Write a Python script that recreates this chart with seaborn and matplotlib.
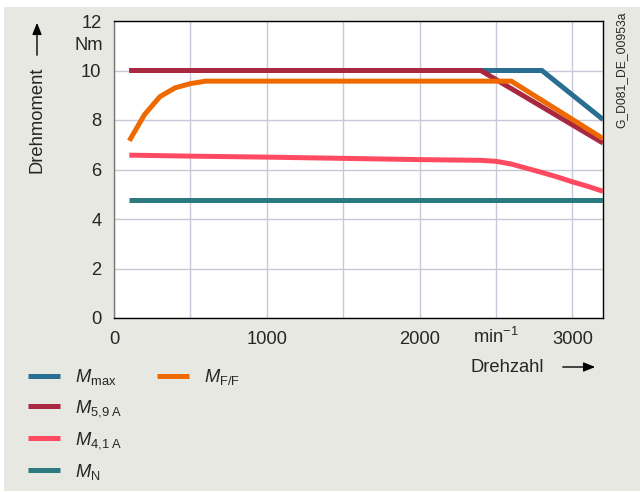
import numpy as np
import pandas as pd
import matplotlib
matplotlib.use("Agg")
import matplotlib.pyplot as plt
from matplotlib.patches import Rectangle
import matplotlib.transforms as mtransforms
import seaborn as sns

# ---- data ----
n_max = [100, 2800, 3200]
m_max = [10.0, 10.0, 8.02]

n_59 = [100, 2400, 3200]
m_59 = [10.0, 10.0, 7.07]

n_41 = [100, 500, 1000, 1500, 2000, 2400, 2500, 2600, 2700, 2800, 2900, 3000, 3100, 3200]
m_41 = [6.58, 6.54, 6.50, 6.45, 6.40, 6.37, 6.33, 6.22, 6.05, 5.88, 5.70, 5.50, 5.32, 5.12]

n_N = [100, 3200]
m_N = [4.76, 4.76]

n_ff = [100, 200, 300, 400, 500, 600, 2600, 3200]
m_ff = [7.16, 8.22, 8.94, 9.30, 9.47, 9.57, 9.57, 7.25]

series_labels = [r"$M_{\mathrm{max}}$", r"$M_{\mathrm{5{,}9\ A}}$", r"$M_{\mathrm{4{,}1\ A}}$",
                 r"$M_{\mathrm{N}}$", r"$M_{\mathrm{F/F}}$"]
x_ticks = [0, 1000, 2000, 3000]
y_ticks = [0, 2, 4, 6, 8, 10, 12]

colors = ["#2a6e92", "#a9283f", "#ff4b62", "#2a7a80", "#ee6a00"]

sns.set_style("white")
plt.rcParams["font.family"] = ["Liberation Sans", "DejaVu Sans"]
plt.rcParams["mathtext.fontset"] = "custom"
plt.rcParams["mathtext.rm"] = "Liberation Sans"
plt.rcParams["mathtext.it"] = "Liberation Sans:italic"
plt.rcParams["mathtext.bf"] = "Liberation Sans:bold"

FS = 13.2
bg = "#e8e8e3"
fig = plt.figure(figsize=(6.4, 4.92), dpi=100)
fig.patch.set_facecolor("white")
fig.patches.append(Rectangle((4 / 640, 1 - 491 / 492), 636 / 640, 484 / 492,
                             transform=fig.transFigure, facecolor=bg, edgecolor="none", zorder=-10))

ax = fig.add_axes([114 / 640, 1 - 318 / 492, (603 - 114) / 640, (318 - 21) / 492])
ax.set_facecolor("white")

frames = []
for name, xs, ys in [("max", n_max, m_max), ("59", n_59, m_59), ("41", n_41, m_41),
                     ("N", n_N, m_N), ("ff", n_ff, m_ff)]:
    frames.append(pd.DataFrame({"n": xs, "M": ys, "s": name}))
df = pd.concat(frames, ignore_index=True)

handles = []
for name, lab, col in zip(["max", "59", "41", "N", "ff"], series_labels, colors):
    sub = df[df["s"] == name]
    sns.lineplot(data=sub, x="n", y="M", ax=ax, color=col, lw=3.6, sort=False,
                 solid_capstyle="butt", solid_joinstyle="miter", zorder=3)
    handles.append(ax.lines[-1])

ax.set_xlim(0, 3200)
ax.set_ylim(0, 12)
ax.set_xticks(x_ticks)
ax.set_xticklabels([str(v) for v in x_ticks])
ax.set_yticks(y_ticks)
ax.set_xticks(np.arange(500, 3200, 500), minor=True)
ax.grid(True, which="both", color="#c9c8d8", lw=1.0)
ax.set_axisbelow(True)
ax.tick_params(axis="both", which="major", direction="out", length=6, width=1, color="#666666",
               labelsize=FS, pad=3)
ax.tick_params(axis="x", which="minor", length=0)
ax.set_xlabel("")
ax.set_ylabel("")
for s in ["top", "right", "bottom"]:
    ax.spines[s].set_color("black")
    ax.spines[s].set_linewidth(1.0)
ax.spines["left"].set_color("#777777")
ax.spines["left"].set_linewidth(1.0)

# unit labels
trans_y = mtransforms.blended_transform_factory(ax.transAxes, ax.transData)
ax.text(-0.022, 11, "Nm", transform=trans_y, ha="right", va="center", fontsize=FS)
trans_x = mtransforms.blended_transform_factory(ax.transData, ax.transAxes)
ax.text(2500, -0.03, r"min$^{\mathrm{-1}}$", transform=trans_x, ha="center", va="top", fontsize=FS)

# axis titles with arrows
fig.text(37 / 640, 1 - 120 / 492, "Drehmoment", rotation=90, ha="center", va="center", fontsize=FS)
fig.add_artist(matplotlib.patches.FancyArrowPatch((37 / 640, 1 - 58 / 492), (37 / 640, 1 - 20 / 492),
               transform=fig.transFigure, arrowstyle="-|>,head_length=7,head_width=2.8",
               color="black", lw=1.0, mutation_scale=1))
fig.text(507 / 640, 1 - 367 / 492, "Drehzahl", ha="center", va="center", fontsize=FS)
fig.add_artist(matplotlib.patches.FancyArrowPatch((560 / 640, 1 - 367 / 492), (598 / 640, 1 - 367 / 492),
               transform=fig.transFigure, arrowstyle="-|>,head_length=7,head_width=2.8",
               color="black", lw=1.0, mutation_scale=1))

fig.text(621 / 640, 1 - 70 / 492, "G_D081_DE_00953a", rotation=90, ha="center", va="center", fontsize=8.7)

# legends
leg_kw = dict(loc="upper left", frameon=False, fontsize=FS, handlelength=1.75,
              handletextpad=0.8, labelspacing=0.6, borderaxespad=0, borderpad=0)
leg1 = fig.legend(handles[:4], series_labels[:4], bbox_to_anchor=(28 / 640, 1 - 367 / 492), **leg_kw)
leg2 = fig.legend(handles[4:], series_labels[4:], bbox_to_anchor=(157 / 640, 1 - 367 / 492), **leg_kw)

fig.savefig("out.png", dpi=100, facecolor=fig.get_facecolor())
